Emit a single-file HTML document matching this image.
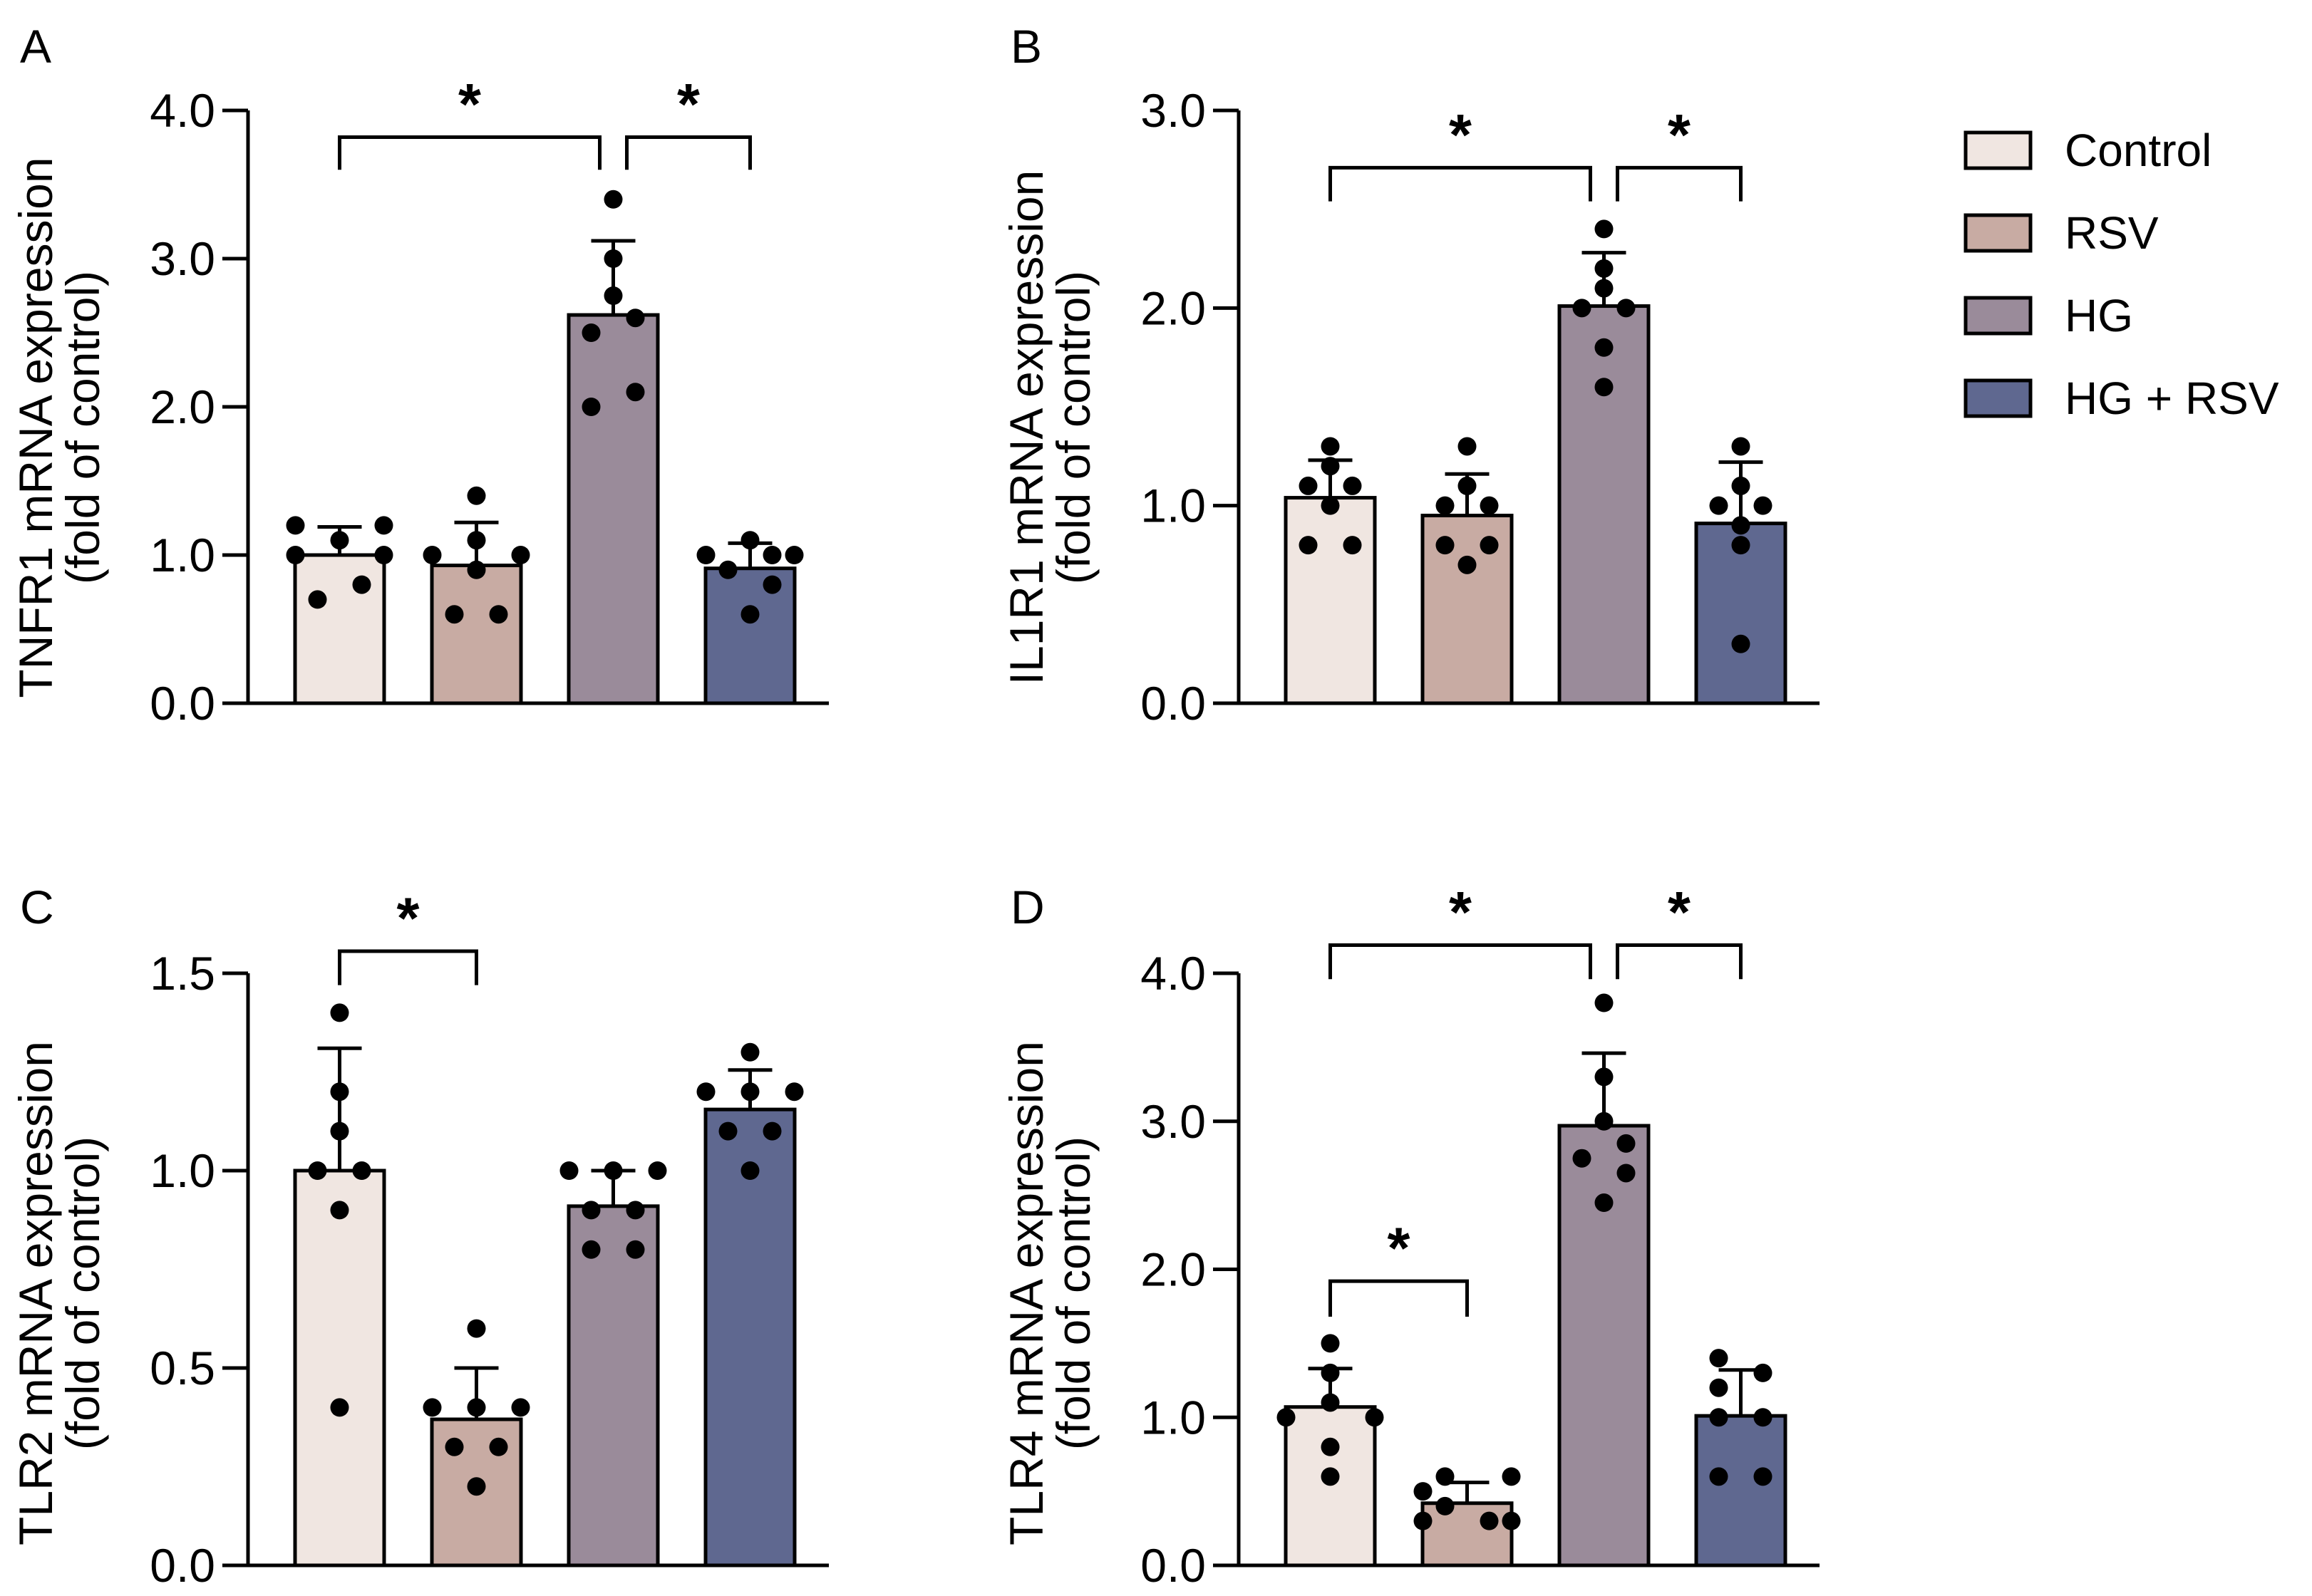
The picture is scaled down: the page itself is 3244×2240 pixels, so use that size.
<!DOCTYPE html>
<html><head><meta charset="utf-8"><style>
html,body{margin:0;padding:0;background:#fff;}
svg{display:block;font-family:"Liberation Sans",Arial,sans-serif;}
</style></head><body>
<svg id="fig" width="3244" height="2240" viewBox="0 0 3244 2240">
<g>
 <rect x="2758" y="186" width="91" height="50" fill="#f0e6e1" stroke="#000" stroke-width="5"/>
 <text x="2897" y="233" font-size="64">Control</text>
 <rect x="2758" y="302" width="91" height="50" fill="#c8aba3" stroke="#000" stroke-width="5"/>
 <text x="2897" y="349" font-size="64">RSV</text>
 <rect x="2758" y="418" width="91" height="50" fill="#9a8b9a" stroke="#000" stroke-width="5"/>
 <text x="2897" y="465" font-size="64">HG</text>
 <rect x="2758" y="534" width="91" height="50" fill="#5f6890" stroke="#000" stroke-width="5"/>
 <text x="2897" y="581" font-size="64">HG + RSV</text>
</g>
</svg>
<script>
const groups = ["Control","RSV","HG","HG + RSV"];
const colors = ["#f0e6e1","#c8aba3","#9a8b9a","#5f6890"];
// Panel A
const aMeans = [1.0,0.93,2.62,0.91];
const aErr = [1.19,1.22,3.12,1.08];
const aPts = [[1.2,1.1,1.2,1.0,1.0,0.7,0.8],[1.4,1.1,1.0,1.0,0.9,0.6,0.6],[3.4,3.0,2.75,2.6,2.5,2.1,2.0],[1.1,1.0,1.0,1.0,0.9,0.8,0.6]];
const aJit = [[-2,0,2,-2,2,-1,1],[0,0,-2,2,0,-1,1],[0,0,0,1,-1,1,-1],[0,-2,1,2,-1,1,0]];
const aTicks = ["0.0","1.0","2.0","3.0","4.0"];
// Panel B
const bMeans = [1.04,0.95,2.01,0.91];
const bErr = [1.23,1.16,2.28,1.22];
const bPts = [[1.3,1.2,1.1,1.1,1.0,0.8,0.8],[1.3,1.1,1.0,1.0,0.8,0.8,0.7],[2.4,2.2,2.1,2.0,2.0,1.8,1.6],[1.3,1.1,1.0,1.0,0.9,0.8,0.3]];
const bJit = [[0,0,-1,1,0,-1,1],[0,0,-1,1,-1,1,0],[0,0,0,-1,1,0,0],[0,0,-1,1,0,0,0]];
const bTicks = ["0.0","1.0","2.0","3.0"];
// Panel C
const cMeans = [1.0,0.37,0.91,1.155];
const cErr = [1.31,0.5,1.0,1.255];
const cPts = [[1.4,1.2,1.1,1.0,1.0,0.9,0.4],[0.6,0.4,0.4,0.4,0.3,0.3,0.2],[1.0,1.0,1.0,0.9,0.9,0.8,0.8],[1.3,1.2,1.2,1.2,1.1,1.1,1.0]];
const cJit = [[0,0,0,-1,1,0,0],[0,-2,0,2,-1,1,0],[-2,0,2,-1,1,-1,1],[0,-2,0,2,-1,1,0]];
const cTicks = ["0.0","0.5","1.0","1.5"];
// Panel D
const dMeans = [1.07,0.42,2.97,1.01];
const dErr = [1.33,0.56,3.46,1.32];
const dPts = [[1.5,1.3,1.1,1.0,1.0,0.8,0.6],[0.6,0.6,0.5,0.4,0.3,0.3,0.3],[3.8,3.3,3.0,2.85,2.75,2.65,2.45],[1.4,1.3,1.2,1.0,1.0,0.6,0.6]];
const dJit = [[0,0,0,-2,2,0,0],[-1,2,-2,-1,-2,1,2],[0,0,0,1,-1,1,0],[-1,1,-1,-1,1,-1,1]];
const dTicks = ["0.0","1.0","2.0","3.0","4.0"];

const NS="http://www.w3.org/2000/svg";
const svg=document.getElementById('fig');
function mk(tag,attrs,parent){const e=document.createElementNS(NS,tag);for(const k in attrs)e.setAttribute(k,attrs[k]);(parent||svg).appendChild(e);return e;}

function panel(o){
  const g=mk('g',{});
  
  
  const ymax=+o.ticks[o.ticks.length-1];
  const Y=v=>o.y0-(v/ymax)*(o.y0-o.ytop);
  const X=i=>o.ax+66+62.5+i*192;
  const lt=mk('text',{x:o.ax-320,y:o.letterY,'font-size':66},g);lt.textContent=o.id;
  
  
  o.means.forEach((m,i)=>{
    const r=mk('rect',{x:X(i)-62.5,y:Y(m),width:125,height:o.y0-Y(m),fill:colors[i],stroke:'#000','stroke-width':5},g);
    
    
    const e=mk('path',{d:`M${X(i)} ${Y(m)}V${Y(o.err[i])}M${X(i)-31} ${Y(o.err[i])}H${X(i)+31}`,stroke:'#000','stroke-width':5,fill:'none'},g);
    
    
    o.pts[i].forEach((v,j)=>{
      const c=mk('circle',{cx:X(i)+o.jit[i][j]*31,cy:Y(v),r:13,fill:'#000'},g);
      
      
    });
  });
  const ax=mk('path',{d:`M${o.ax} ${Y(ymax)}V${o.y0}H${o.ax+815}`,stroke:'#000','stroke-width':5,fill:'none'},g);
  
  
  o.ticks.forEach(t=>{
    const y=Y(+t);
    const tk=mk('path',{d:`M${o.ax-36} ${y}H${o.ax}`,stroke:'#000','stroke-width':5},g);
    
    
    const tl=mk('text',{x:o.ax-46,y:y+23,'font-size':66,'text-anchor':'end'},g);tl.textContent=t;
    
    
  });
  const tt=mk('text',{transform:`translate(${o.ax-275},${o.ymid}) rotate(-90)`,'font-size':66,'text-anchor':'middle'},g);
  
  
  const t1=mk('tspan',{x:0,y:0},tt);t1.textContent=o.title;
  const t2=mk('tspan',{x:0,y:66},tt);t2.textContent='(fold of control)';
  o.br.forEach(b=>{
    const x1=X(b[0])+(b[4]||0), x2=X(b[1])+(b[5]||0);
    const p=mk('path',{d:`M${x1} ${Y(b[3])}V${Y(b[2])}H${x2}V${Y(b[3])}`,stroke:'#000','stroke-width':5,fill:'none'},g);
    
    
    const s=mk('text',{x:(x1+x2)/2,y:Y(b[2])-18,'font-size':82,'font-weight':'bold','text-anchor':'middle'},g);s.textContent='*';
    
    
  });
}
panel({id:'A',ax:348,y0:987,ytop:155,letterY:88,ymid:600,ticks:aTicks,means:aMeans,err:aErr,pts:aPts,jit:aJit,title:'TNFR1 mRNA expression',
  br:[[0,2,3.82,3.6,0,-19],[2,3,3.82,3.6,19,0]]});
panel({id:'B',ax:1738,y0:987,ytop:155,letterY:88,ymid:600,ticks:bTicks,means:bMeans,err:bErr,pts:bPts,jit:bJit,title:'IL1R1 mRNA expression',
  br:[[0,2,2.71,2.54,0,-19],[2,3,2.71,2.54,19,0]]});
panel({id:'C',ax:348,y0:2197,ytop:1366,letterY:1296,ymid:1815,ticks:cTicks,means:cMeans,err:cErr,pts:cPts,jit:cJit,title:'TLR2 mRNA expression',
  br:[[0,1,1.556,1.47,0,0]]});
panel({id:'D',ax:1738,y0:2197,ytop:1366,letterY:1296,ymid:1815,ticks:dTicks,means:dMeans,err:dErr,pts:dPts,jit:dJit,title:'TLR4 mRNA expression',
  br:[[0,2,4.19,3.96,0,-19],[2,3,4.19,3.96,19,0],[0,1,1.92,1.68,0,0]]});
</script>
</body></html>
